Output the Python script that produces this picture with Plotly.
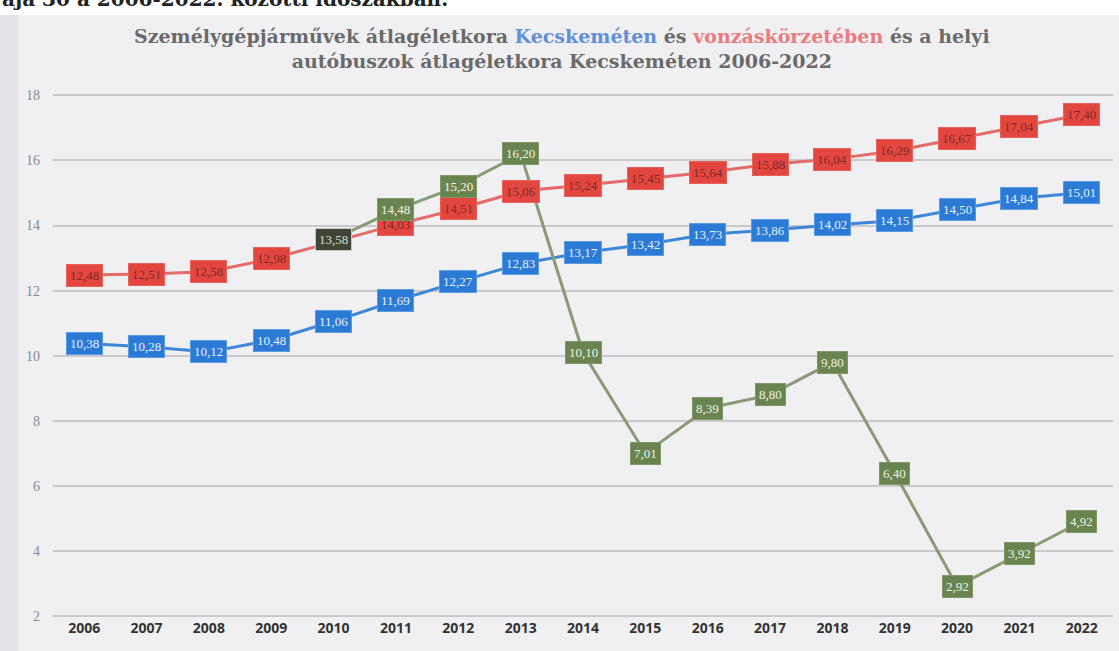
import plotly.graph_objects as go

years = list(range(2006, 2023))
kecskemet = [10.38, 10.28, 10.12, 10.48, 11.06, 11.69, 12.27, 12.83, 13.17, 13.42,
             13.73, 13.86, 14.02, 14.15, 14.50, 14.84, 15.01]
vonzaskorzet = [12.48, 12.51, 12.58, 12.98, 13.50, 14.03, 14.51, 15.06, 15.24, 15.45,
                15.64, 15.88, 16.04, 16.29, 16.67, 17.04, 17.40]
busz_years = list(range(2010, 2023))
busz = [13.58, 14.48, 15.20, 16.20, 10.10, 7.01, 8.39, 8.80, 9.80, 6.40, 2.92, 3.92, 4.92]
y_ticks = [2, 4, 6, 8, 10, 12, 14, 16, 18]

RED = "#e2463f"
BLUE = "#2b7bd6"
GREEN = "#6a8450"

L, R, T, B = 53, 6, 79, 33
PW, PH = 1119 - L - R, 651 - T - B

fig = go.Figure()
fig.add_trace(go.Scatter(x=years, y=vonzaskorzet, mode="lines",
                         line=dict(color="#e46b67", width=3), showlegend=False))
fig.add_trace(go.Scatter(x=years, y=kecskemet, mode="lines",
                         line=dict(color="#3d86d8", width=3), showlegend=False))
fig.add_trace(go.Scatter(x=busz_years, y=busz, mode="lines",
                         line=dict(color="#8a9a74", width=3), showlegend=False))


def fmt(v):
    return f"{v:.2f}".replace(".", ",")


annotations = []
for x, v in zip(years, kecskemet):
    annotations.append(dict(x=x, y=v, xref="x", yref="y", text=fmt(v), showarrow=False,
                            bgcolor=BLUE, bordercolor="#5b9be0", borderwidth=1, borderpad=3,
                            font=dict(family="Liberation Serif", size=13, color="#e8f0fa")))
for x, v in zip(years, vonzaskorzet):
    if x in busz_years and abs(busz[busz_years.index(x)] - v) < 0.3:
        continue  # hidden behind the bus label, as in the original
    annotations.append(dict(x=x, y=v, xref="x", yref="y", text=fmt(v), showarrow=False,
                            bgcolor=RED, bordercolor="#e8625c", borderwidth=1, borderpad=3,
                            font=dict(family="Liberation Serif", size=13, color="#7d2a26")))
for i, (x, v) in enumerate(zip(busz_years, busz)):
    dark = i == 0
    annotations.append(dict(x=x, y=v, xref="x", yref="y", text=fmt(v), showarrow=False,
                            bgcolor="#3f4636" if dark else GREEN,
                            bordercolor="#c8c8c0" if dark else "#7f9866",
                            borderwidth=1, borderpad=3,
                            font=dict(family="Liberation Serif", size=13,
                                      color="#d8dccd" if dark else "#eef2e6")))

title_text = ("<b><span style='color:#6a6a6a'>Személygépjárművek átlagéletkora </span>"
              "<span style='color:#5f8fd8'>Kecskeméten</span>"
              "<span style='color:#6a6a6a'> és </span>"
              "<span style='color:#ec7b80'>vonzáskörzetében</span>"
              "<span style='color:#6a6a6a'> és a helyi</span><br>"
              "<span style='color:#6a6a6a'>autóbuszok átlagéletkora Kecskeméten 2006-2022</span></b>")
annotations.append(dict(x=(562 - L) / PW, y=1.0 + (T - 49) / PH, xref="paper", yref="paper",
                        text=title_text, showarrow=False, xanchor="center", yanchor="middle",
                        font=dict(family="DejaVu Serif", size=19, color="#6a6a6a")))
annotations.append(dict(x=-L / PW, y=1.0 + (T + 1) / PH, xref="paper", yref="paper",
                        text="<b>aja 30 a 2006-2022. közötti időszakban.</b>", showarrow=False,
                        xanchor="left", yanchor="middle",
                        font=dict(family="DejaVu Serif", size=20, color="#222222")))

fig.update_layout(
    width=1119, height=651,
    margin=dict(l=L, r=R, t=T, b=B, autoexpand=False),
    paper_bgcolor="#f0f0f2",
    plot_bgcolor="rgba(0,0,0,0)",
    annotations=annotations,
    shapes=[dict(type="rect", xref="paper", yref="paper", x0=-L / PW, x1=(18 - L) / PW,
                 y0=-0.1, y1=1.2, fillcolor="#e4e4e8", line=dict(width=0), layer="below"),
            dict(type="rect", xref="paper", yref="paper", x0=-0.06, x1=1.01,
                 y0=1.0 + (T - 15) / PH, y1=1.2, fillcolor="#ffffff", line=dict(width=0),
                 layer="below")],
    xaxis=dict(range=[2005.5, 2022.5], tickvals=years, showgrid=False, zeroline=False,
               showline=False, ticks="", automargin=False,
               tickfont=dict(family="Open Sans", size=14, color="#333333", weight="bold")),
    yaxis=dict(range=[1.95, 18.5], tickvals=y_ticks, showgrid=True, gridcolor="#c9c9cc",
               gridwidth=1.5, zeroline=False, showline=False, ticks="", automargin=False,
               ticklabelstandoff=12,
               tickfont=dict(family="Liberation Serif", size=14, color="#8a8a8a")),
)

fig.write_html("out.html", config={"displayModeBar": False},
               post_script="document.body.style.margin='0';")
